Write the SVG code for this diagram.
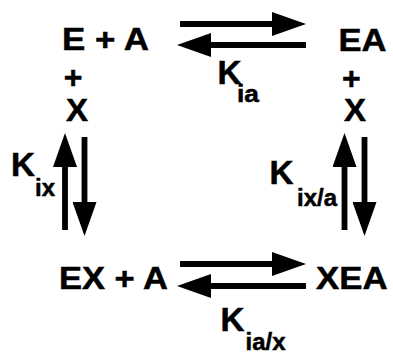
<svg xmlns="http://www.w3.org/2000/svg" width="393" height="354" viewBox="0 0 393 354">
<defs>
<style>
text{font-family:"Liberation Sans",Arial,sans-serif;font-weight:bold;fill:#000;stroke:#000;stroke-width:0.5}
.big{font-size:32px}
.k{font-size:33px}
.sub{font-size:23px}
.arr{stroke:#000;stroke-width:5.8;fill:none;marker-end:url(#head)}
</style>
<marker id="head" markerUnits="userSpaceOnUse" viewBox="0 0 34 24" markerWidth="34" markerHeight="24" refX="1" refY="12" orient="auto">
<path d="M0,0 L34,12 L0,24 Z" fill="#000"/>
</marker>
</defs>
<rect width="393" height="354" fill="#fff"/>
<g id="connectors">
<path class="arr" d="M180,24 H273"/>
<path class="arr" d="M306,45 H210"/>
<path class="arr" d="M180,264 H273"/>
<path class="arr" d="M306,286 H210"/>
<path class="arr" d="M65,230 V166"/>
<path class="arr" d="M84.5,137 V203"/>
<path class="arr" d="M344.5,230 V166"/>
<path class="arr" d="M364.5,137 V203"/>
</g>
<g id="node-E-A">
<text class="big" x="62" y="50" textLength="87" lengthAdjust="spacingAndGlyphs">E + A</text>
<text class="big" x="73" y="88" text-anchor="middle">+</text>
<text class="big" x="66" y="121" textLength="22" lengthAdjust="spacingAndGlyphs">X</text>
</g>
<g id="node-EA">
<text class="big" x="338.5" y="51" textLength="48" lengthAdjust="spacingAndGlyphs">EA</text>
<text class="big" x="351.3" y="88.5" text-anchor="middle">+</text>
<text class="big" x="344" y="121" textLength="22" lengthAdjust="spacingAndGlyphs">X</text>
</g>
<g id="node-EX-A">
<text class="big" x="59" y="289" textLength="109" lengthAdjust="spacingAndGlyphs">EX + A</text>
</g>
<g id="node-XEA">
<text class="big" x="316" y="289" textLength="71.5" lengthAdjust="spacingAndGlyphs">XEA</text>
</g>
<g id="label-Kia">
<text><tspan class="k" x="217.5" y="84" textLength="24" lengthAdjust="spacingAndGlyphs">K</tspan><tspan class="sub" x="237" y="102" textLength="22" lengthAdjust="spacingAndGlyphs">ia</tspan></text>
</g>
<g id="label-Kix">
<text><tspan class="k" x="11" y="175.5" textLength="24" lengthAdjust="spacingAndGlyphs">K</tspan><tspan class="sub" x="35" y="195.5" textLength="20" lengthAdjust="spacingAndGlyphs">ix</tspan></text>
</g>
<g id="label-Kixa">
<text><tspan class="k" x="269.5" y="183.5" textLength="24" lengthAdjust="spacingAndGlyphs">K</tspan><tspan class="sub" x="297" y="206" textLength="40" lengthAdjust="spacingAndGlyphs">ix/a</tspan></text>
</g>
<g id="label-Kiax">
<text><tspan class="k" x="220.5" y="330.5" textLength="24" lengthAdjust="spacingAndGlyphs">K</tspan><tspan class="sub" x="245.5" y="349.5" textLength="40" lengthAdjust="spacingAndGlyphs">ia/x</tspan></text>
</g>
</svg>
